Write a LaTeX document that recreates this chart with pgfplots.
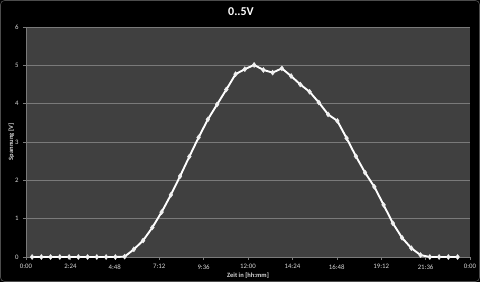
\documentclass[border=0pt]{standalone}
\usepackage{pgfplots}
\pgfplotsset{compat=1.18}
\usepackage{fontspec}
\setmainfont{Carlito}
\definecolor{plotbg}{HTML}{404040}
\definecolor{gridc}{HTML}{7A7A7A}
\definecolor{tickc}{HTML}{D8D8D8}
\begin{document}
\begin{tikzpicture}
\useasboundingbox (0,0) rectangle (480pt,282pt);
\fill[black] (0,0) rectangle (480pt,282pt);
\draw[black!70!white, line width=0.6pt, rounded corners=4pt] (0.5pt,0.5pt) rectangle (479.5pt,281.5pt);
\node[text=white, font=\bfseries\fontsize{12}{14}\selectfont] at (241pt,270pt) {0..5V};
\begin{axis}[
  at={(26pt,25pt)}, anchor=south west,
  scale only axis, width=444pt, height=230pt,
  xmin=0, xmax=24, ymin=0, ymax=6,
  axis background/.style={fill=plotbg},
  axis x line*=bottom, axis y line*=left,
  axis line style={gridc, line width=0.6pt},
  xtick={0,2.4,4.8,7.2,9.6,12,14.4,16.8,19.2,21.6,24},
  xticklabels={0:00,2:24,4:48,7:12,9:36,12:00,14:24,16:48,19:12,21:36,0:00},
  ytick={0,1,2,3,4,5,6},
  ymajorgrids, grid style={gridc, line width=0.6pt},
  tick style={gridc, line width=0.5pt},
  tick align=outside, major tick length=3pt,
  ticklabel style={text=tickc, font=\fontsize{6.8}{7}\selectfont},
  /pgf/number format/assume math mode=true,
  xticklabel style={yshift=-1pt},
  yticklabel style={xshift=-1pt},
  xlabel={Zeit in [hh:mm]},
  ylabel={Spannung [V]},
  label style={text=tickc, font=\bfseries\fontsize{6.5}{7}\selectfont},
  xlabel style={yshift=3pt},
  ylabel style={yshift=-6pt},
  clip=false,
]
\addplot[white, line width=1.9pt, mark=diamond*, mark size=2.6pt, mark options={fill=white!88!gray, draw=white!88!gray, line width=0.3pt}] coordinates {
(0.33,0) (0.83,0) (1.33,0) (1.83,0) (2.33,0) (2.83,0) (3.33,0) (3.83,0) (4.33,0) (4.83,0)
(5.33,0.01) (5.83,0.20) (6.33,0.43) (6.83,0.77) (7.33,1.17) (7.83,1.62) (8.33,2.11) (8.83,2.62)
(9.33,3.12) (9.83,3.59) (10.33,3.98) (10.83,4.37) (11.33,4.77) (11.83,4.90) (12.33,5.01)
(12.83,4.88) (13.33,4.81) (13.83,4.92) (14.33,4.72) (14.83,4.50) (15.33,4.31) (15.83,4.03)
(16.33,3.72) (16.83,3.55) (17.33,3.10) (17.83,2.63) (18.33,2.20) (18.83,1.83) (19.33,1.36)
(19.83,0.88) (20.33,0.50) (20.83,0.23) (21.33,0.05) (21.83,0) (22.33,0) (22.83,0) (23.33,0)
};
\end{axis}
\end{tikzpicture}
\end{document}
